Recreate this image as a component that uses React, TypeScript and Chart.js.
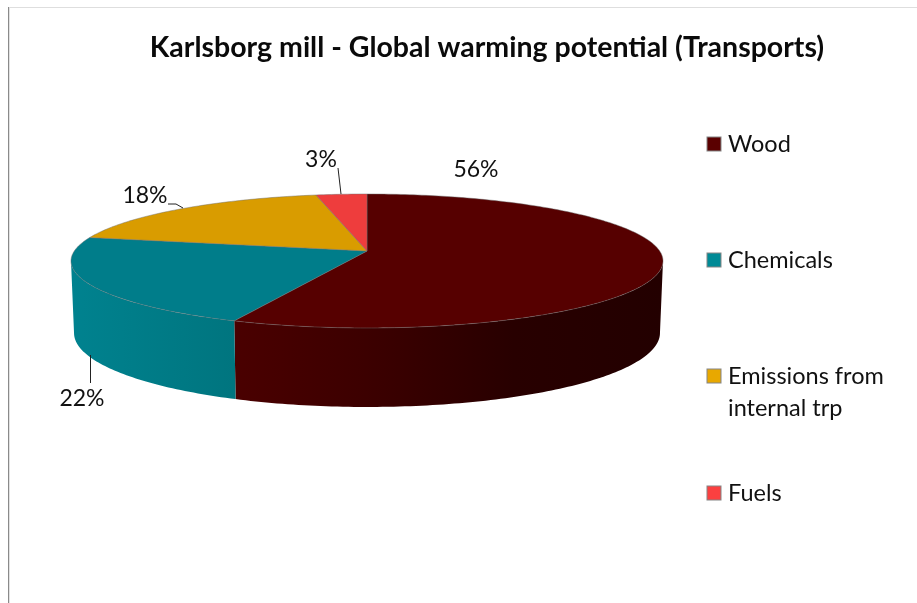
import React, { useEffect, useRef } from "react";
import { Chart, registerables } from "chart.js";

Chart.register(...registerables);

const titleText = "Karlsborg mill - Global warming potential (Transports)";
const categories = ["Wood", "Chemicals", "Emissions from internal trp", "Fuels"];
const legendLines = [["Wood"], ["Chemicals"], ["Emissions from", "internal trp"], ["Fuels"]];
const shares = [56.4, 22.0, 18.4, 3.2];
const topColors = ["#560000", "#007d8a", "#d99c00", "#ee3d3d"];
const legendColors = ["#5a0000", "#008a96", "#e8a800", "#fb4040"];
const wallStops = [
  [[0, "#4a0000"], [0.35, "#3a0000"], [0.65, "#280000"], [1, "#230000"]],
  [[0, "#00828f"], [1, "#00757f"]],
  [[0, "#b08000"], [1, "#b08000"]],
  [[0, "#c03030"], [1, "#c03030"]],
];

const FONT = "Lato, Carlito, sans-serif";

// Perspective projection of a circular disc on to the page
const K = 0.149;
const CX = 367;
const TOP = { ya: 251, b: 65.5, c: 292.7 };
const BOTTOM = { ya: 322, b: 72.3, c: 289.7 };
const VISIBLE_FROM = (8.6 * Math.PI) / 180;
const VISIBLE_TO = (171.4 * Math.PI) / 180;

type Plane = { ya: number; b: number; c: number };
const project = (p: Plane, a: number): [number, number] => {
  const d = 1 - K * Math.sin(a);
  return [CX + (p.c * Math.cos(a)) / d, p.ya + (p.b * Math.sin(a)) / d];
};

const traceRim = (ctx: CanvasRenderingContext2D, p: Plane, from: number, to: number, move: boolean) => {
  const n = Math.max(8, Math.ceil(Math.abs(to - from) * 60));
  for (let i = 0; i <= n; i++) {
    const [x, y] = project(p, from + ((to - from) * i) / n);
    if (i === 0 && move) ctx.moveTo(x, y);
    else ctx.lineTo(x, y);
  }
};

// Position of each percentage text and its leader line
const labelSpots: [number, number][] = [[476, 170], [82, 399], [145, 196], [321, 160]];
const leaders: ([number, number][] | null)[] = [
  null,
  [[90.5, 355], [90.5, 383]],
  [[168, 204], [176, 204], [183, 208]],
  [[338, 168], [341, 194]],
];
const legendRows = [144, 260, 376, 493];

const disc3d = {
  id: "disc3d",
  beforeDatasetDraw(chart: any) {
    const ctx: CanvasRenderingContext2D = chart.ctx;
    const arcs = chart.getDatasetMeta(0).data;
    ctx.save();
    // walls
    arcs.forEach((arc: any, i: number) => {
      const from = Math.max(arc.startAngle, VISIBLE_FROM);
      const to = Math.min(arc.endAngle, VISIBLE_TO);
      if (to <= from) return;
      ctx.beginPath();
      traceRim(ctx, TOP, from, to, true);
      traceRim(ctx, BOTTOM, to, from, false);
      ctx.closePath();
      const xs = [project(TOP, from)[0], project(TOP, to)[0]];
      const g = ctx.createLinearGradient(Math.min(...xs), 0, Math.max(...xs), 0);
      wallStops[i].forEach(([o, c]) => g.addColorStop(o as number, c as string));
      ctx.fillStyle = g;
      ctx.fill();
    });
    // top faces
    arcs.forEach((arc: any, i: number) => {
      ctx.beginPath();
      ctx.moveTo(CX, TOP.ya);
      traceRim(ctx, TOP, arc.startAngle, arc.endAngle, false);
      ctx.closePath();
      ctx.fillStyle = arc.options.backgroundColor;
      ctx.fill();
      ctx.lineWidth = 0.7;
      ctx.strokeStyle = "rgba(110,110,110,0.65)";
      ctx.lineJoin = "round";
      ctx.stroke();
    });
    ctx.restore();
    return false;
  },
  afterDraw(chart: any) {
    const ctx: CanvasRenderingContext2D = chart.ctx;
    ctx.save();
    // frame of the picture
    ctx.fillStyle = "#dedede";
    ctx.fillRect(8, 7, 909, 1);
    ctx.fillStyle = "#8a8a8a";
    ctx.fillRect(8, 7, 1, 596);
    ctx.fillStyle = "#e2e2e2";
    ctx.fillRect(9, 8, 1, 595);

    // percentages
    ctx.fillStyle = "#111";
    ctx.textAlign = "center";
    ctx.textBaseline = "middle";
    ctx.font = `23px ${FONT}`;
    shares.forEach((v, i) => {
      ctx.fillText(`${Math.round(v)}%`, labelSpots[i][0], labelSpots[i][1]);
      const l = leaders[i];
      if (l) {
        ctx.beginPath();
        l.forEach(([x, y], j) => (j ? ctx.lineTo(x, y) : ctx.moveTo(x, y)));
        ctx.strokeStyle = "#222";
        ctx.lineWidth = 1;
        ctx.stroke();
      }
    });

    // legend
    ctx.textAlign = "left";
    ctx.font = `23.5px ${FONT}`;
    categories.forEach((_, i) => {
      const y = legendRows[i];
      ctx.fillStyle = legendColors[i];
      ctx.fillRect(707, y - 7, 14, 14);
      ctx.strokeStyle = "#858585";
      ctx.lineWidth = 1;
      ctx.strokeRect(707, y - 7, 14, 14);
      ctx.fillStyle = "#111";
      legendLines[i].forEach((t, j) => ctx.fillText(t, 728, y + j * 32));
    });
    ctx.restore();
  },
};

export default function App() {
  const ref = useRef<HTMLCanvasElement>(null);
  useEffect(() => {
    const chart = new Chart(ref.current!, {
      type: "pie",
      data: {
        labels: categories,
        datasets: [{ data: shares, backgroundColor: topColors, borderWidth: 0 }],
      },
      options: {
        animation: false,
        responsive: false,
        layout: { padding: { left: 57, right: 0, top: 31 } },
        plugins: {
          legend: { display: false },
          tooltip: { enabled: false },
          title: {
            display: true,
            text: titleText,
            fullSize: false,
            color: "#0a0a0a",
            font: { family: FONT, size: 28.5, weight: "bold" },
            padding: { top: 0, bottom: 10 },
          },
        },
      },
      plugins: [disc3d],
    } as any);
    return () => chart.destroy();
  }, []);
  return (
    <div style={{ position: "fixed", inset: 0, overflow: "hidden", background: "#fff" }}>
      <canvas ref={ref} width={917} height={603} style={{ display: "block" }} />
    </div>
  );
}
